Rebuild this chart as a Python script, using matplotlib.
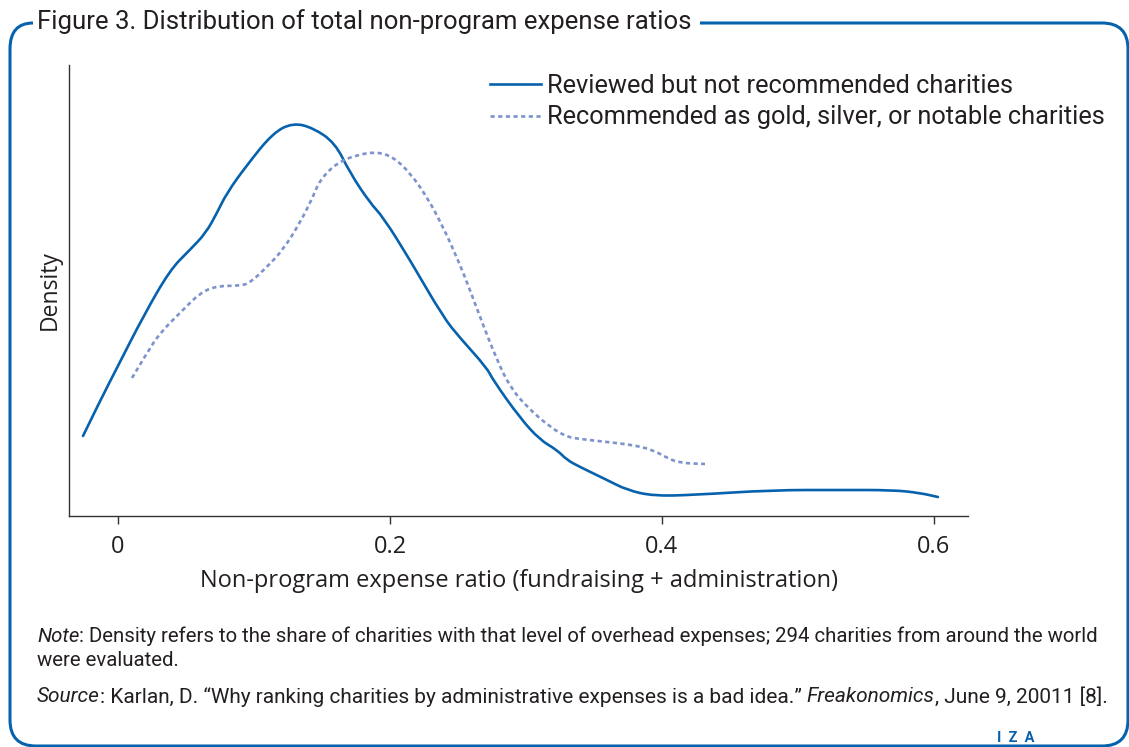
import matplotlib.pyplot as plt
from matplotlib.path import Path
from matplotlib.patches import PathPatch
from matplotlib.lines import Line2D

# density estimates
ratio_reviewed = [-0.0257, -0.0132, 0.0, 0.0184, 0.0382, 0.0529, 0.0647, 0.0728, 0.0801,
                  0.0949, 0.1140, 0.1287, 0.1434, 0.1596, 0.1706, 0.1853, 0.1949, 0.2147,
                  0.2390, 0.2515, 0.2713, 0.2757, 0.2956, 0.3103, 0.3228, 0.3301, 0.3397,
                  0.3596, 0.3743, 0.3934, 0.4228, 0.4816, 0.5309, 0.5699, 0.5897, 0.6029]
dens_reviewed = [1.143, 1.643, 2.143, 2.843, 3.514, 3.800, 4.043, 4.329, 4.614,
                 5.014, 5.471, 5.614, 5.543, 5.329, 4.900, 4.471, 4.271, 3.657,
                 2.843, 2.543, 2.114, 1.943, 1.400, 1.086, 0.943, 0.800, 0.700,
                 0.514, 0.371, 0.286, 0.300, 0.371, 0.371, 0.371, 0.329, 0.271]

ratio_recommended = [0.0103, 0.0213, 0.0309, 0.0456, 0.0603, 0.0728, 0.0897, 0.0971, 0.1096,
                     0.1213, 0.1338, 0.1434, 0.1485, 0.1610, 0.1757, 0.1904, 0.2022, 0.2147,
                     0.2272, 0.2390, 0.2500, 0.2588, 0.2684, 0.2787, 0.2882, 0.3007, 0.3176,
                     0.3301, 0.3397, 0.3596, 0.3787, 0.3934, 0.4037, 0.4132, 0.4316]
dens_recommended = [1.971, 2.329, 2.614, 2.900, 3.186, 3.286, 3.286, 3.329, 3.557,
                    3.800, 4.186, 4.557, 4.800, 5.043, 5.157, 5.200, 5.129, 4.900,
                    4.557, 4.129, 3.657, 3.229, 2.729, 2.229, 1.843, 1.557, 1.271,
                    1.129, 1.100, 1.057, 1.014, 0.943, 0.829, 0.757, 0.743]

xticks = [0, 0.2, 0.4, 0.6]
xtick_labels = ["0", "0.2", "0.4", "0.6"]

narrow = ["Roboto", "DejaVu Sans"]
blue = "#0762ad"
light = "#7d93cc"
text_col = "#231f20"

fig = plt.figure(figsize=(11.29, 7.47), dpi=100)
W, H = 1129, 747

ax = fig.add_axes([69 / W, 1 - 516 / H, (968 - 69) / W, (516 - 65) / H])


def smooth_curve(xs, ys, **kw):
    # quadratic pieces through the midpoints so the density reads as a smooth curve
    pts = list(zip(xs, ys))
    verts = [pts[0]]
    codes = [Path.MOVETO]
    for i in range(1, len(pts) - 1):
        mid = ((pts[i][0] + pts[i + 1][0]) / 2, (pts[i][1] + pts[i + 1][1]) / 2)
        verts += [pts[i], mid]
        codes += [Path.CURVE3, Path.CURVE3]
    verts.append(pts[-1])
    codes.append(Path.LINETO)
    ax.add_patch(PathPatch(Path(verts, codes), facecolor="none", **kw))


smooth_curve(ratio_reviewed, dens_reviewed, edgecolor=blue, lw=1.9, capstyle="round")
smooth_curve(ratio_recommended, dens_recommended, edgecolor=light, lw=1.9,
             linestyle=(0, (1.6, 1.3)))
ax.set_xlim(-0.036, 0.625)
ax.set_ylim(0, 6.44)
ax.set_yticks([])
ax.set_xticks(xticks)
ax.set_xticklabels(xtick_labels, fontsize=17, family="Open Sans", color=text_col)
ax.tick_params(axis="x", length=6, width=1, color="#333333", pad=8)
for s in ["top", "right"]:
    ax.spines[s].set_visible(False)
for s in ["left", "bottom"]:
    ax.spines[s].set_color("#333333")
    ax.spines[s].set_linewidth(1)
ax.set_xlabel("Non-program expense ratio (fundraising + administration)",
              fontsize=17, family="Open Sans", color=text_col, labelpad=7)
ax.set_ylabel("Density", fontsize=16.5, family="Open Sans", color=text_col, labelpad=5)

handles = [Line2D([], [], color=blue, lw=1.9),
           Line2D([], [], color=light, lw=1.9, dashes=(1.6, 1.3))]
labels = ["Reviewed but not recommended charities",
          "Recommended as gold, silver, or notable charities"]
leg = ax.legend(handles, labels, loc="upper left", bbox_to_anchor=(0.457, 1.003),
                borderaxespad=0, frameon=False, handlelength=2.0, handletextpad=0.25,
                labelspacing=0.3, prop={"family": narrow, "size": 18.3})
for t in leg.get_texts():
    t.set_color(text_col)

# rounded blue frame, drawn in pixel units
def px(x, y):
    return (x / 100, (H - y) / 100)

r = 26
verts = [px(33, 23), px(10, 23), px(10, 23 + r), px(10, 746 - r),
         px(10, 746), px(10 + r, 746), px(1128 - r, 746), px(1128, 746),
         px(1128, 746 - r), px(1128, 23 + r), px(1128, 23), px(1128 - r, 23),
         px(700, 23)]
codes = [Path.MOVETO, Path.CURVE3, Path.CURVE3, Path.LINETO,
         Path.CURVE3, Path.CURVE3, Path.LINETO, Path.CURVE3,
         Path.CURVE3, Path.LINETO, Path.CURVE3, Path.CURVE3,
         Path.LINETO]
frame = PathPatch(Path(verts, codes), facecolor="none", edgecolor=blue, lw=2.2,
                  transform=fig.dpi_scale_trans, clip_on=False)
fig.add_artist(frame)

fig.text(37 / W, 1 - 22 / H, "Figure 3. Distribution of total non-program expense ratios",
         family=narrow, fontsize=18.5, color=text_col, va="center", ha="left")

renderer = fig.canvas.get_renderer()


def text_runs(x, y, runs, size=14.7):
    # lay out plain and italic pieces one after another on a line
    for s, style in runs:
        t = fig.text(x / W, 1 - y / H, s, family=narrow, fontsize=size, style=style,
                     color=text_col, va="center", ha="left")
        x += t.get_window_extent(renderer).width


text_runs(37, 636, [("Note", "italic"),
                    (": Density refers to the share of charities with that level of overhead "
                     "expenses; 294 charities from around the world", "normal")])
text_runs(37, 661, [("were evaluated.", "normal")])
text_runs(37, 697, [("Source", "italic"),
                    (": Karlan, D. \u201cWhy ranking charities by administrative expenses is a "
                     "bad idea.\u201d ", "normal"),
                    ("Freakonomics", "italic"),
                    (", June 9, 20011 [8].", "normal")], size=15.0)

fig.text(997 / W, 1 - 738 / H, "I  Z  A", family=narrow, fontsize=10.5, color=blue,
         va="center", weight="bold")

fig.savefig("out.png", dpi=100)
